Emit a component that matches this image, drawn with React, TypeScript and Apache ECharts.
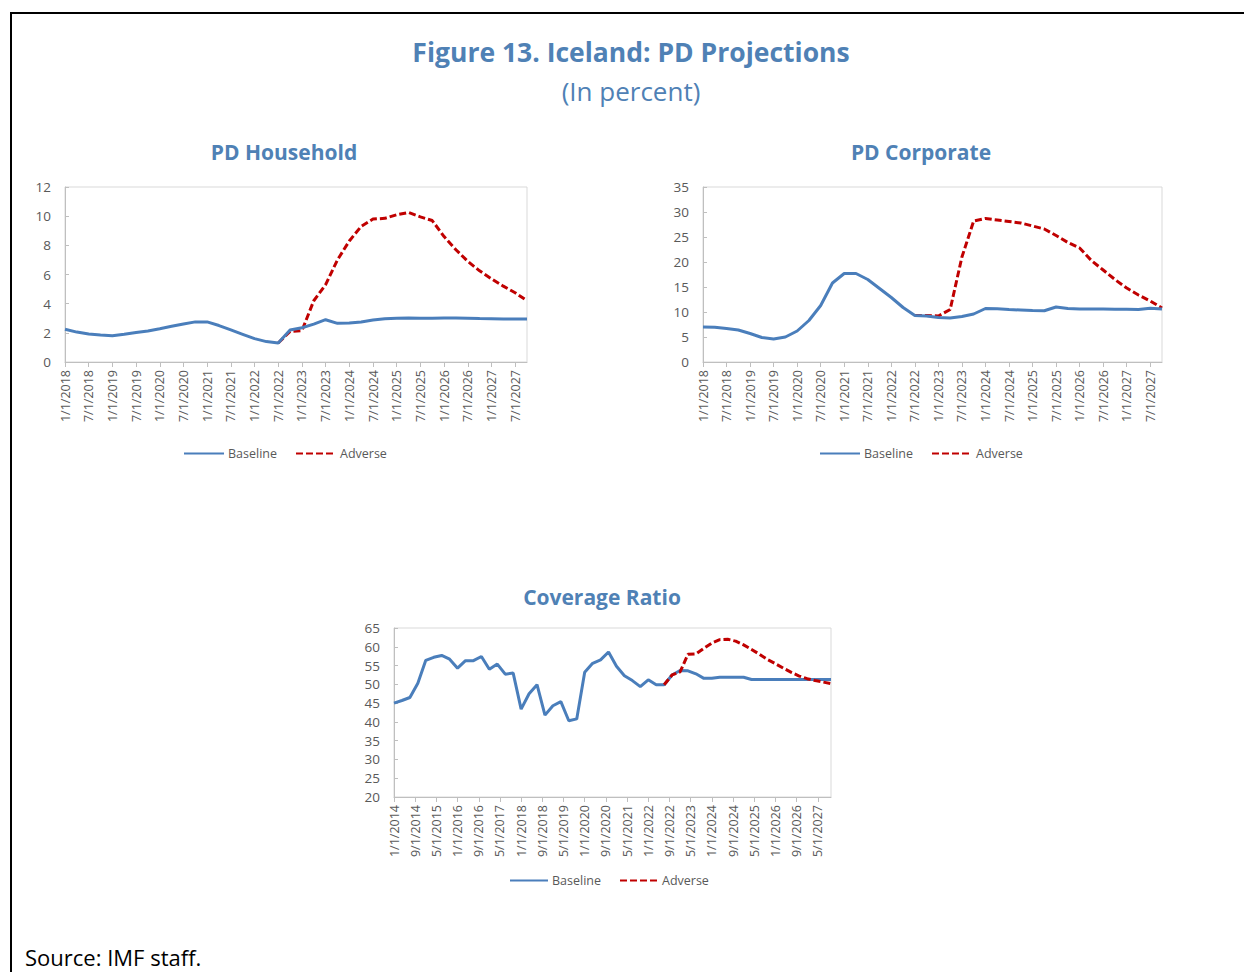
import React, { useEffect, useRef } from "react";
import * as echarts from "echarts";

// ---- Data ----
const householdDates: string[] = [];
for (let y = 2018; y <= 2027; y++) for (const m of [1, 4, 7, 10]) householdDates.push(`${m}/1/${y}`);
const corporateDates = householdDates.slice();

const householdBaseline = [2.25, 2.05, 1.92, 1.85, 1.8, 1.9, 2.02, 2.12, 2.28, 2.45, 2.6, 2.75, 2.75, 2.5, 2.2, 1.9, 1.6, 1.4, 1.3, 2.2, 2.35, 2.6, 2.9, 2.65, 2.67, 2.75, 2.88, 2.97, 3.0, 3.02, 3.0, 3.0, 3.02, 3.02, 3.0, 2.98, 2.97, 2.95, 2.95, 2.95];
const householdAdverse = [null, null, null, null, null, null, null, null, null, null, null, null, null, null, null, null, null, null, 1.3, 2.1, 2.15, 4.2, 5.3, 7.0, 8.3, 9.3, 9.8, 9.85, 10.1, 10.25, 9.95, 9.7, 8.6, 7.7, 6.9, 6.25, 5.7, 5.2, 4.75, 4.2];

const corporateBaseline = [7.0, 6.95, 6.7, 6.4, 5.7, 4.9, 4.6, 5.0, 6.2, 8.3, 11.3, 15.8, 17.7, 17.7, 16.5, 14.7, 12.9, 10.9, 9.3, 9.2, 8.9, 8.8, 9.1, 9.6, 10.7, 10.65, 10.5, 10.4, 10.3, 10.25, 11.0, 10.7, 10.6, 10.6, 10.6, 10.55, 10.55, 10.5, 10.75, 10.6];
const corporateAdverse = [null, null, null, null, null, null, null, null, null, null, null, null, null, null, null, null, null, null, 9.3, 9.3, 9.2, 10.5, 21.0, 28.2, 28.7, 28.4, 28.1, 27.8, 27.2, 26.6, 25.3, 23.9, 22.8, 20.3, 18.4, 16.5, 14.8, 13.4, 12.2, 10.8];

// quarterly dates 1/1/2014 .. 10/1/2027, expressed as months since Jan 2014
const coverageMonths: number[] = [];
for (let m = 0; m <= 165; m += 3) coverageMonths.push(m);
const coverageBaseline = [45.0, 45.7, 46.5, 50.3, 56.4, 57.2, 57.7, 56.7, 54.3, 56.3, 56.3, 57.4, 54.0, 55.4, 52.7, 53.0, 43.4, 47.5, 49.9, 41.8, 44.3, 45.4, 40.3, 40.8, 53.2, 55.6, 56.5, 58.6, 54.8, 52.3, 51.0, 49.4, 51.2, 49.9, 49.9, 52.5, 53.7, 53.6, 52.8, 51.6, 51.6, 51.9, 51.9, 51.9, 51.9, 51.3, 51.3, 51.3, 51.3, 51.3, 51.3, 51.3, 51.3, 51.3, 51.3, 51.3];
const coverageAdverse = [null, null, null, null, null, null, null, null, null, null, null, null, null, null, null, null, null, null, null, null, null, null, null, null, null, null, null, null, null, null, null, null, null, null, 49.9, 52.5, 53.3, 58.0, 58.1, 59.6, 61.0, 61.9, 62.0, 61.5, 60.5, 59.3, 58.0, 56.6, 55.5, 54.3, 53.2, 52.2, 51.5, 51.0, 50.6, 50.2];

const seriesNames = ["Baseline", "Adverse"];

const FONT = "'Open Sans', 'Noto Sans', sans-serif";
const BLUE = "#4A7EBB";
const RED = "#C00000";
const TITLE_BLUE = "#4F81B5";
const GRAY_TXT = "#595959";
const GRAY_LINE = "#BFBFBF";

function monthLabel(m: number) {
  const month = 1 + (m % 12);
  const year = 2014 + Math.floor(m / 12);
  return `${month}/1/${year}`;
}

export default function App() {
  const ref = useRef<HTMLDivElement>(null);
  useEffect(() => {
    if (!ref.current) return;
    const chart = echarts.init(ref.current, undefined, { renderer: "svg" });

    const grids = [
      { left: 65, top: 187, width: 462, height: 175 },
      { left: 703, top: 187, width: 459, height: 175 },
      { left: 394, top: 628, width: 437, height: 169 },
    ];

    const catXAxis = (gi: number, data: string[]) => ({
      type: "category",
      gridIndex: gi,
      data,
      boundaryGap: false,
      axisLine: { lineStyle: { color: GRAY_LINE, width: 1 } },
      axisTick: { show: true, interval: 1, length: 5, lineStyle: { color: GRAY_LINE } },
      axisLabel: { interval: 1, rotate: 90, color: GRAY_TXT, fontSize: 12.5, fontFamily: FONT, margin: 8 },
      splitLine: { show: false },
    });

    const yAxis = (gi: number, min: number, max: number, interval: number) => ({
      type: "value",
      gridIndex: gi,
      min,
      max,
      interval,
      axisLine: { show: true, lineStyle: { color: GRAY_LINE, width: 1 } },
      axisTick: { show: true, inside: true, length: 4, lineStyle: { color: GRAY_LINE } },
      splitLine: { show: false },
      axisLabel: { color: GRAY_TXT, fontSize: 13.5, fontFamily: FONT, margin: 14 },
    });

    const baseStyle = { color: BLUE, width: 3 };
    const advStyle = { color: RED, width: 3, type: [7, 3] as any };

    const legend = (left: number, top: number, itemWidth = 40) => ({
      left,
      top,
      itemWidth,
      itemHeight: 12,
      itemGap: 18,
      padding: 0,
      itemStyle: { opacity: 0 },
      textStyle: { color: GRAY_TXT, fontSize: 12.5, fontFamily: FONT, padding: [0, 0, 0, -1] },
      data: seriesNames,
    });

    const titleStyle = (size: number, weight: any) => ({
      color: TITLE_BLUE,
      fontSize: size,
      fontWeight: weight,
      fontFamily: FONT,
    });

    chart.setOption({
      animation: false,
      backgroundColor: "#ffffff",
      title: [
        { text: "Figure 13. Iceland: PD Projections", left: 631, top: 38, textAlign: "center", padding: 0, textStyle: titleStyle(26.5, 700) },
        { text: "(In percent)", left: 631, top: 78, textAlign: "center", padding: 0, textStyle: titleStyle(26, 400) },
        { text: "PD Household", left: 284, top: 141, textAlign: "center", padding: 0, textStyle: titleStyle(21, 700) },
        { text: "PD Corporate", left: 921, top: 141, textAlign: "center", padding: 0, textStyle: titleStyle(21, 700) },
        { text: "Coverage Ratio", left: 602, top: 586, textAlign: "center", padding: 0, textStyle: titleStyle(21, 700) },
      ],
      legend: [legend(183, 447), legend(819, 447), legend(509, 874, 38)],
      grid: grids.map((g) => ({ ...g, show: true, borderColor: "#D9D9D9", borderWidth: 1, containLabel: false })),
      xAxis: [
        catXAxis(0, householdDates),
        catXAxis(1, corporateDates),
        {
          type: "value",
          gridIndex: 2,
          min: 0,
          max: 165,
          interval: 8,
          axisLine: { lineStyle: { color: GRAY_LINE, width: 1 } },
          axisTick: { show: true, length: 5, lineStyle: { color: GRAY_LINE } },
          axisLabel: {
            rotate: 90,
            color: GRAY_TXT,
            fontSize: 12.5,
            fontFamily: FONT,
            margin: 8,
            showMaxLabel: false,
            formatter: (v: number) => (v % 8 === 0 ? monthLabel(v) : ""),
          },
          splitLine: { show: false },
        },
      ],
      yAxis: [yAxis(0, 0, 12, 2), yAxis(1, 0, 35, 5), yAxis(2, 20, 65, 5)],
      series: [
        { name: "Baseline", type: "line", xAxisIndex: 0, yAxisIndex: 0, data: householdBaseline, symbol: "none", lineStyle: baseStyle, itemStyle: { color: BLUE }, z: 3 },
        { name: "Adverse", type: "line", xAxisIndex: 0, yAxisIndex: 0, data: householdAdverse, symbol: "none", lineStyle: advStyle, itemStyle: { color: RED }, z: 2 },
        { name: "Baseline", type: "line", xAxisIndex: 1, yAxisIndex: 1, data: corporateBaseline, symbol: "none", lineStyle: baseStyle, itemStyle: { color: BLUE }, z: 3 },
        { name: "Adverse", type: "line", xAxisIndex: 1, yAxisIndex: 1, data: corporateAdverse, symbol: "none", lineStyle: advStyle, itemStyle: { color: RED }, z: 2 },
        { name: "Baseline", type: "line", xAxisIndex: 2, yAxisIndex: 2, data: coverageMonths.map((m, i) => [m, coverageBaseline[i]]), symbol: "none", lineStyle: baseStyle, itemStyle: { color: BLUE }, z: 3 },
        { name: "Adverse", type: "line", xAxisIndex: 2, yAxisIndex: 2, data: coverageMonths.map((m, i) => [m, coverageAdverse[i]]), symbol: "none", lineStyle: advStyle, itemStyle: { color: RED }, z: 4 },
      ],
      graphic: [
        { type: "rect", shape: { x: 11, y: 13, width: 1300, height: 1100 }, style: { fill: "none", stroke: "#000", lineWidth: 2 }, silent: true },
        { type: "text", x: 25, y: 957, style: { text: "Source: IMF staff.", fill: "#000", fontSize: 22, fontFamily: FONT, textVerticalAlign: "middle" } },
      ],
    });

    return () => chart.dispose();
  }, []);

  return <div ref={ref} style={{ position: "fixed", left: 0, top: 0, width: 1244, height: 972 }} />;
}
